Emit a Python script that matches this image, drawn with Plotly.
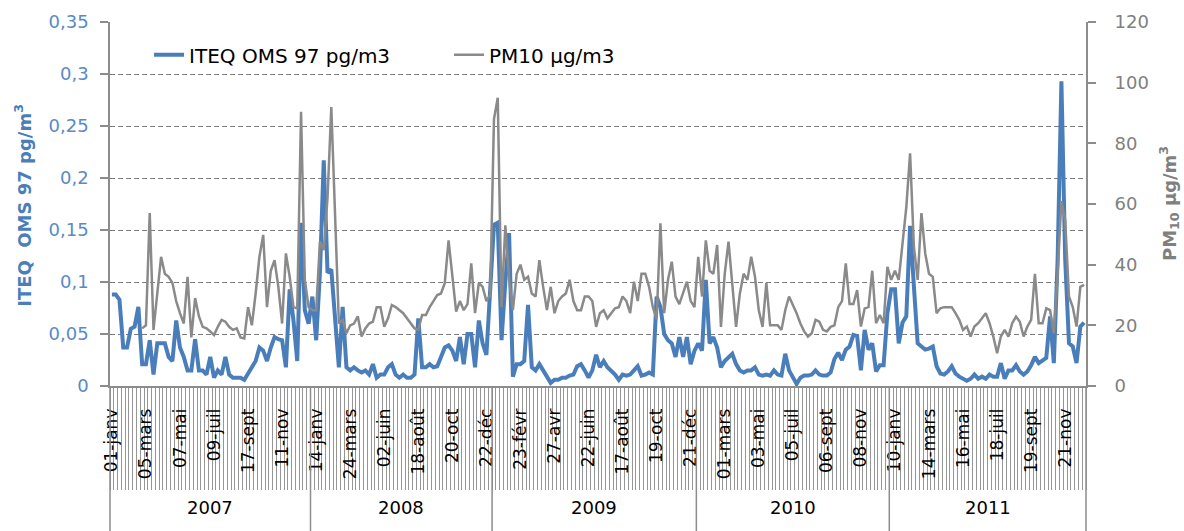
import plotly.graph_objects as go

# ---------------- data ----------------
iteq = [0.088, 0.088, 0.083, 0.037, 0.037, 0.055, 0.057, 0.076, 0.021, 0.021,
        0.044, 0.011, 0.041, 0.041, 0.041, 0.028, 0.024, 0.063, 0.037, 0.028,
        0.015, 0.015, 0.045, 0.015, 0.015, 0.011, 0.028, 0.008, 0.015, 0.011,
        0.028, 0.011, 0.008, 0.008, 0.008, 0.006, 0.013, 0.018, 0.024, 0.037,
        0.034, 0.024, 0.037, 0.047, 0.045, 0.044, 0.018, 0.093, 0.063, 0.024,
        0.157, 0.073, 0.060, 0.086, 0.044, 0.109, 0.217, 0.109, 0.112, 0.063,
        0.018, 0.076, 0.018, 0.015, 0.018, 0.015, 0.013, 0.015, 0.011, 0.021,
        0.008, 0.011, 0.011, 0.018, 0.021, 0.011, 0.008, 0.011, 0.008, 0.008,
        0.011, 0.065, 0.018, 0.018, 0.021, 0.018, 0.019, 0.028, 0.037, 0.039,
        0.034, 0.024, 0.047, 0.021, 0.050, 0.050, 0.018, 0.063, 0.041, 0.030,
        0.090, 0.155, 0.157, 0.044, 0.100, 0.147, 0.009, 0.021, 0.021, 0.024,
        0.078, 0.018, 0.015, 0.021, 0.015, 0.008, 0.003, 0.006, 0.006, 0.008,
        0.008, 0.010, 0.011, 0.019, 0.021, 0.015, 0.008, 0.015, 0.030, 0.018,
        0.024, 0.018, 0.015, 0.011, 0.006, 0.011, 0.010, 0.011, 0.015, 0.019,
        0.010, 0.011, 0.013, 0.011, 0.086, 0.076, 0.050, 0.044, 0.041, 0.028,
        0.047, 0.028, 0.047, 0.021, 0.034, 0.041, 0.034, 0.102, 0.041, 0.047,
        0.037, 0.018, 0.024, 0.028, 0.031, 0.021, 0.015, 0.013, 0.015, 0.015,
        0.018, 0.011, 0.010, 0.011, 0.010, 0.015, 0.011, 0.010, 0.031, 0.015,
        0.008, 0.002, 0.008, 0.010, 0.010, 0.011, 0.015, 0.011, 0.010, 0.010,
        0.013, 0.026, 0.032, 0.025, 0.035, 0.038, 0.049, 0.048, 0.015, 0.054,
        0.035, 0.041, 0.014, 0.020, 0.020, 0.070, 0.093, 0.093, 0.041, 0.061,
        0.067, 0.154, 0.096, 0.041, 0.038, 0.035, 0.036, 0.038, 0.019, 0.012,
        0.011, 0.014, 0.019, 0.012, 0.009, 0.007, 0.005, 0.007, 0.011, 0.007,
        0.009, 0.007, 0.011, 0.009, 0.009, 0.022, 0.007, 0.015, 0.015, 0.020,
        0.014, 0.011, 0.014, 0.020, 0.028, 0.022, 0.025, 0.027, 0.067, 0.022,
        0.122, 0.293, 0.122, 0.041, 0.038, 0.022, 0.057, 0.061]

pm10 = [None, None, None, None, None, None, None, None, 19, 20,
        57, 18.5, 30.5, 42.6, 37, 36, 34, 28, 24, 20.6,
        36, 16, 29, 23, 19.5, 19, 18, 16.8, 19.5, 21.8,
        21.2, 19.5, 18.5, 19, 16, 15.7, 26, 20, 30.5, 42.6,
        49.8, 26, 38, 41.5, 32.7, 20.6, 43.7, 36, 26, 25.6,
        90.4, 35, 26, 25, 25, 47.6, 44.8, 62, 92, 57,
        20.6, 21.8, 17.4, 20, 20.6, 23, 16.3, 19, 20.6, 21.2,
        26, 26, 19.5, 22.3, 26.7, 26, 25, 24, 22.3, 20.6,
        19, 18.5, 23.4, 23.4, 26, 28, 30, 30.5, 34, 48,
        35, 24.5, 28, 25, 27, 40.4, 24, 34, 32.7, 28,
        30, 88, 95, 26, 53, 35, 25, 37, 40, 35,
        36, 30.5, 29.5, 41.5, 32.7, 25, 32.7, 24, 28, 29.5,
        30.5, 35, 28, 25, 25, 29.5, 29.5, 28, 19.5, 24,
        25, 22.3, 24, 25.6, 26, 29.5, 28, 24, 34.4, 28,
        37, 37, 32.7, 26, 22, 53.6, 24, 35, 41, 29.5,
        27, 30.5, 34.4, 28, 26, 42.6, 29.5, 48, 38, 37,
        46.5, 19.5, 37, 47.6, 32.7, 19.5, 30.5, 37, 35, 42.6,
        36, 25, 19.5, 34, 20, 20, 20, 18.5, 25, 29.5,
        27, 24, 20.6, 18, 16.3, 17.4, 21.8, 21.2, 18.5, 18,
        19.5, 20, 26, 28, 40.4, 27, 27, 31.6, 19.6, 25.6,
        26, 38, 20.7, 23.4, 20.7, 39.3, 35, 38, 35, 48,
        59, 76.7, 46, 35, 57, 43.7, 37, 36, 24, 25.6,
        26, 26, 26, 24, 21.8, 18.5, 19.6, 16.3, 19.6, 20.7,
        22.3, 24, 20.7, 16.3, 10.8, 16.3, 18.5, 16.3, 20.7, 22.9,
        21.2, 16.3, 19.6, 21.8, 37, 20.7, 20.7, 25.6, 25, 17.4,
        37, 61, 54.7, 29.5, 26, 19.6, 32.7, 33.3]

date_labels = ["01-janv", "05-mars", "07-mai", "09-juil", "17-sept", "11-nov",
               "14-janv", "24-mars", "02-juin", "18-août", "20-oct", "22-déc",
               "23-févr", "27-avr", "22-juin", "17-août", "19-oct", "21-déc",
               "01-mars", "03-mai", "05-juil", "06-sept", "08-nov",
               "10-janv", "14-mars", "16-mai", "18-juil", "19-sept", "21-nov"]
label_step = 9

years = ["2007", "2008", "2009", "2010", "2011"]
weeks_per_year = [53, 48, 54, 51, 52]

y_left_ticks = [0, 0.05, 0.1, 0.15, 0.2, 0.25, 0.3, 0.35]
y_left_text = ["0", "0,05", "0,1", "0,15", "0,2", "0,25", "0,3", "0,35"]
y_right_ticks = [0, 20, 40, 60, 80, 100, 120]

# ---------------- figure ----------------
N = len(iteq)
idx = list(range(N))
BLUE = "#4a7ebb"
GREY = "#8a8a8a"
AXIS = "#8c8c8c"
FONT = "DejaVu Sans"

fig = go.Figure()
fig.add_trace(go.Scatter(x=idx, y=iteq, mode="lines", name="ITEQ OMS 97 pg/m3",
                         line=dict(color=BLUE, width=4)))
# invisible copy on the label-only right axis (keeps that axis drawn)
fig.add_trace(go.Scatter(x=idx, y=pm10, mode="lines", yaxis="y3", showlegend=False,
                         hoverinfo="skip", opacity=0, line=dict(color=GREY, width=0.1)))
fig.add_trace(go.Scatter(x=idx, y=pm10, mode="lines", name="PM10 µg/m3",
                         yaxis="y2", line=dict(color=GREY, width=2.5)))

tickvals = [i * label_step for i in range(len(date_labels))]

fig.update_layout(
    width=1184, height=531,
    margin=dict(l=110, r=98, t=22, b=145, pad=0),
    paper_bgcolor="white", plot_bgcolor="white",
    font=dict(family=FONT, color="black"),
    showlegend=True,
    legend=dict(orientation="h", x=0.04, xanchor="left", y=0.91, yanchor="middle",
                font=dict(size=20, color="black"), bgcolor="rgba(0,0,0,0)",
                entrywidth=255, entrywidthmode="pixels", traceorder="normal"),
    xaxis=dict(range=[-0.5, N - 0.5], tickmode="array", tickvals=tickvals,
               ticktext=date_labels, tickangle=-90, ticks="",
               tickfont=dict(size=17, color="black"),
               showline=True, linecolor=AXIS, linewidth=1.5,
               showgrid=False, zeroline=False, ticklabelstandoff=14,
               minor=dict(tickmode="linear", tick0=-0.5, dtick=1, ticks="outside",
                          ticklen=102, tickcolor="#969696", tickwidth=1.3,
                          showgrid=False)),
    yaxis=dict(range=[0, 0.35], tickmode="array", tickvals=y_left_ticks,
               ticktext=y_left_text, tickfont=dict(size=18, color="#5a8ac6"),
               ticks="outside", ticklen=8, tickcolor=AXIS, tickwidth=1.5,
               showline=True, linecolor=AXIS, linewidth=1.5,
               showgrid=True, gridcolor="#7a7a7a", gridwidth=1, griddash="5px,3px",
               zeroline=False, ticklabelstandoff=8),
    # right axis: line + short ticks
    yaxis2=dict(range=[0, 120], overlaying="y", side="right", tickmode="array",
                tickvals=y_right_ticks, showticklabels=False,
                ticks="outside", ticklen=8, tickcolor=AXIS, tickwidth=1.5,
                showline=True, linecolor=AXIS, linewidth=1.5,
                showgrid=False, zeroline=False),
    # right axis labels (placed further from the axis line)
    yaxis3=dict(range=[0, 120], overlaying="y", side="right", anchor="x",
                tickmode="array", tickvals=y_right_ticks,
                tickfont=dict(size=18, color="#7f7f7f"),
                ticks="outside", ticklen=24, tickcolor="rgba(0,0,0,0)",
                showline=False, showgrid=False, zeroline=False),
)

# axis titles
fig.add_annotation(text="<b>ITEQ  OMS 97 pg/m<sup>3</sup></b>", xref="paper", yref="paper",
                   x=(23 - 110) / 976, xanchor="center", y=0.495, yanchor="middle",
                   textangle=-90, showarrow=False,
                   font=dict(size=18, color=BLUE, family=FONT))
fig.add_annotation(text="<b>PM<sub>10</sub> µg/m<sup>3</sup></b>", xref="paper", yref="paper",
                   x=(1169 - 110) / 976, xanchor="center", y=0.5, yanchor="middle",
                   textangle=-90, showarrow=False,
                   font=dict(size=18, color="#7f7f7f", family=FONT))

# year groups
bottom = -145 / 364
start = 0
fig.add_shape(type="line", xref="paper", yref="paper", x0=0, x1=0, y0=0, y1=bottom,
              line=dict(color=AXIS, width=1.5))
fig.add_shape(type="line", xref="paper", yref="paper", x0=1, x1=1, y0=0, y1=bottom,
              line=dict(color=AXIS, width=1.5))
for yr, n in zip(years, weeks_per_year):
    end = start + n
    fig.add_annotation(text=yr, xref="x", yref="paper", x=(start + end - 1) / 2,
                       y=(386 - 520) / 364, showarrow=False,
                       font=dict(size=18, color="black", family=FONT))
    if end < N:
        fig.add_shape(type="line", xref="x", yref="paper", x0=end - 0.5, x1=end - 0.5,
                      y0=0, y1=bottom, line=dict(color=AXIS, width=1.5))
    start = end

fig.write_html("out.html")
